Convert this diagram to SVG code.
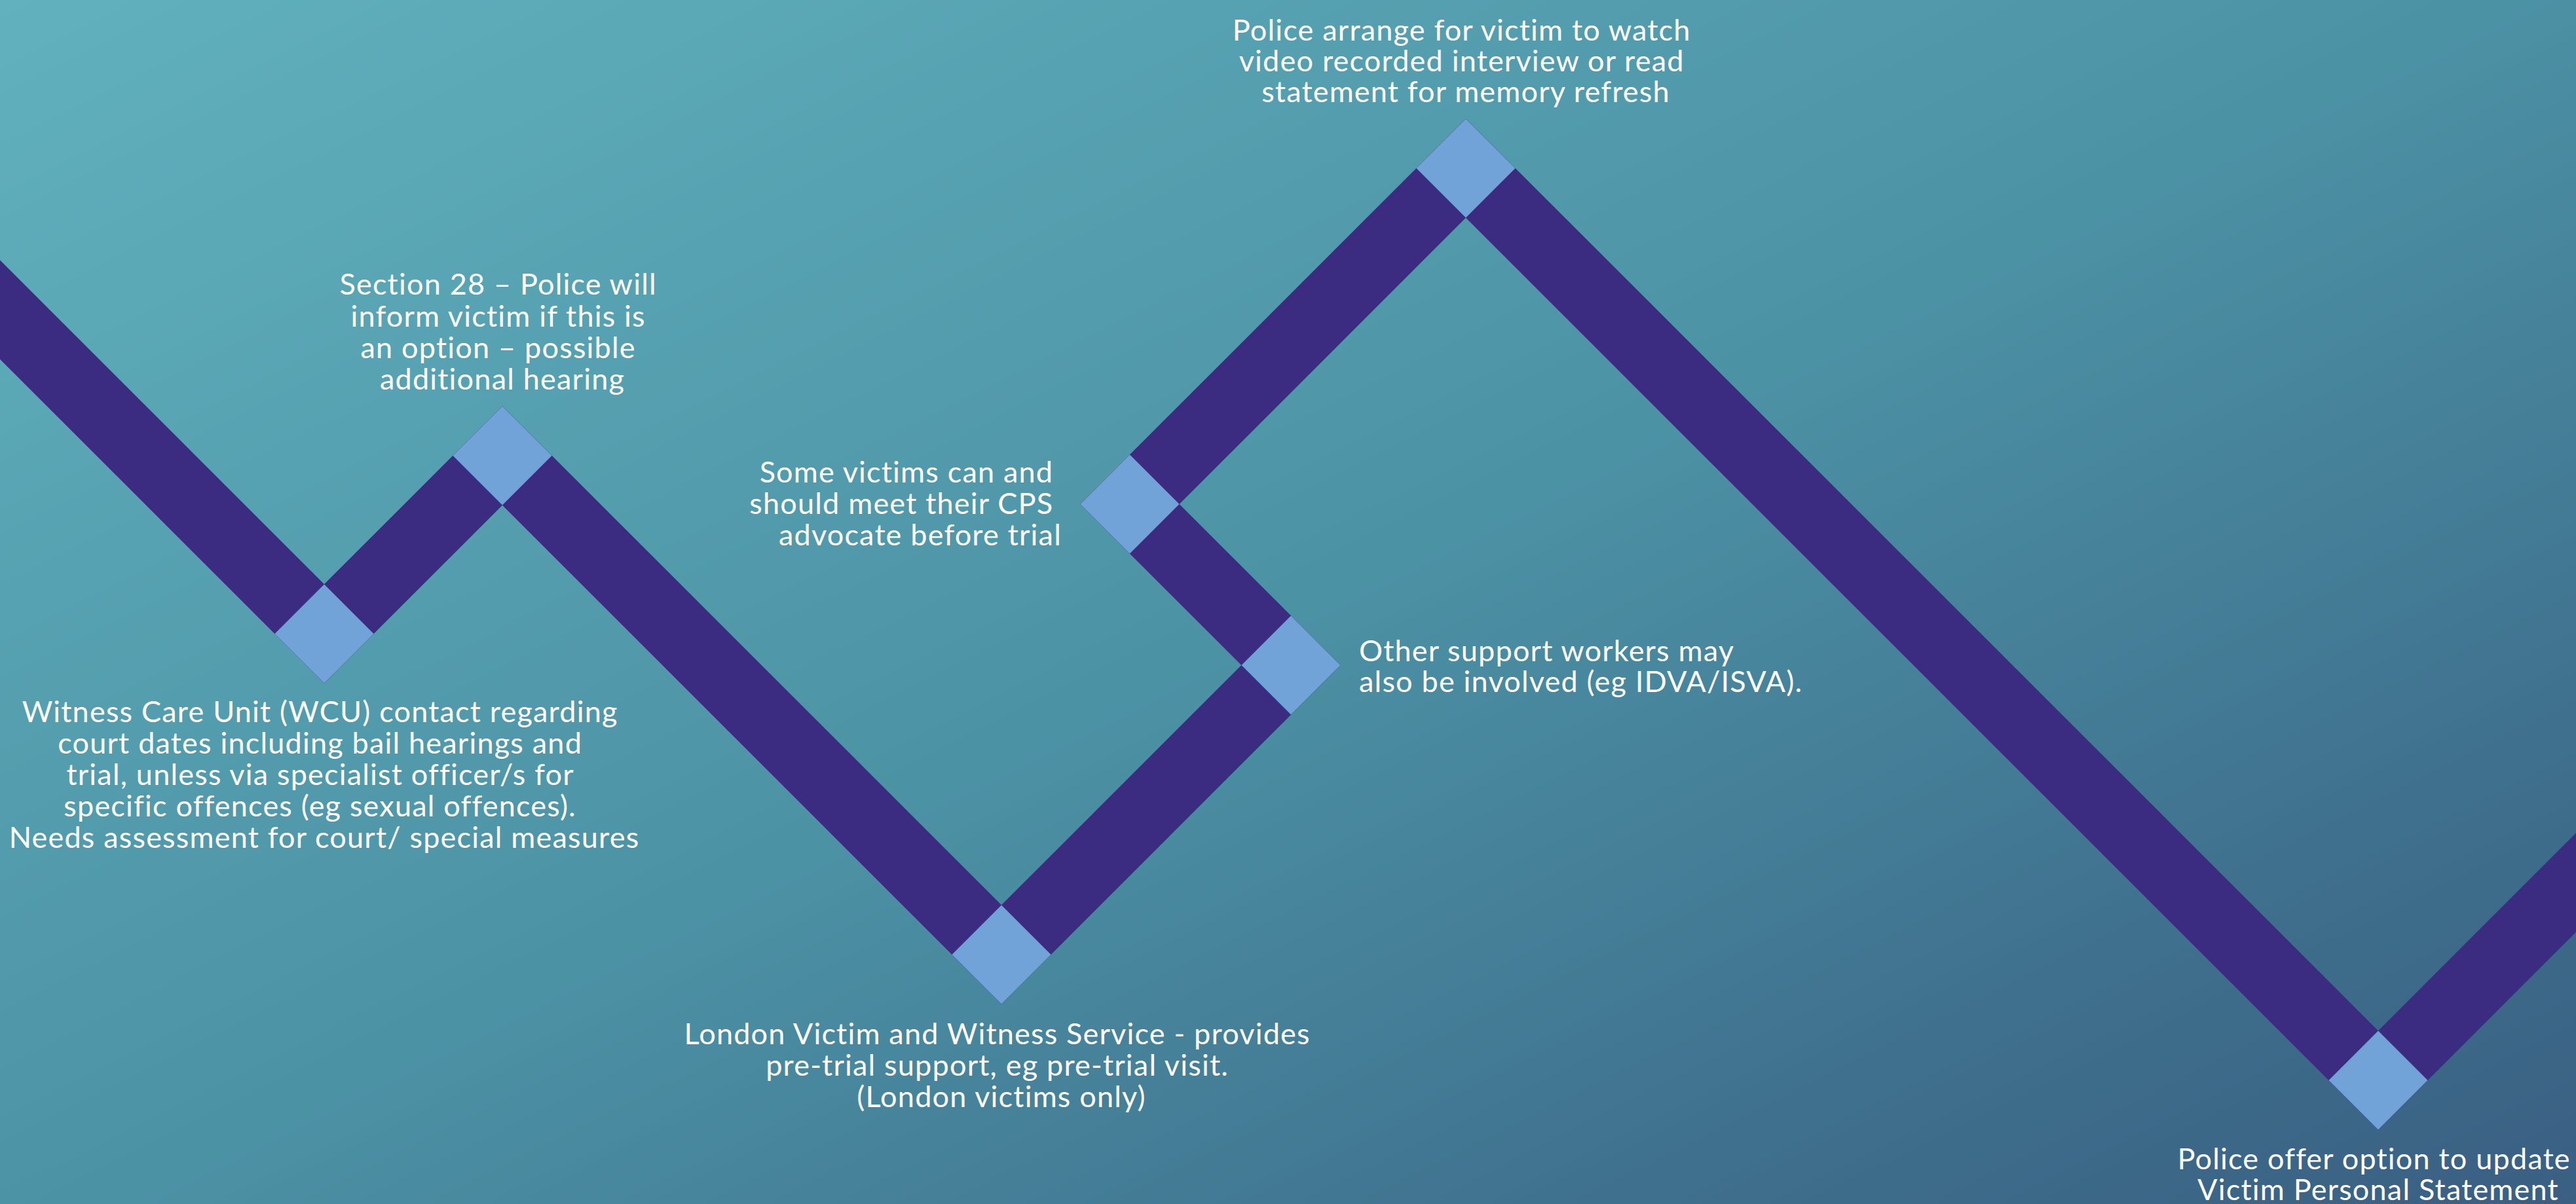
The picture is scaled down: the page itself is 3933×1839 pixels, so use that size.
<svg xmlns="http://www.w3.org/2000/svg" width="3933" height="1839" viewBox="0 0 3933 1839">
  <defs>
    <linearGradient id="bg" gradientUnits="userSpaceOnUse" x1="0" y1="0" x2="1522" y2="3044">
      <stop offset="0" stop-color="#61b1be"/>
      <stop offset="0.5" stop-color="#4c92a5"/>
      <stop offset="0.83" stop-color="#3e6e8c"/>
      <stop offset="1" stop-color="#3a5f82"/>
    </linearGradient>
    <style>
      .band { fill: none; stroke: #3c2c81; stroke-width: 107; stroke-linejoin: miter; stroke-miterlimit: 10; }
      .dia { fill: #71a3d9; }
      .lbl { fill: #ffffff; font-family: Lato, "Open Sans", "Liberation Sans", sans-serif; font-size: 45px; letter-spacing: 1.2px; }
      .mid { text-anchor: middle; }
      .end { text-anchor: end; }
      .start { text-anchor: start; }
    </style>
  </defs>
  <rect x="0" y="0" width="3933" height="1839" fill="url(#bg)"/>

  <g id="connectors">
    <polyline class="band" points="-100,373 495,968 767,696 1529,1458 1971,1016 1725,770 2238,257 3631,1650 4031,1250"/>
  </g>

  <g id="node-wcu">
    <polygon class="dia" points="495,892.5 570.5,968 495,1043.5 419.5,968"/>
    <text class="lbl mid" x="495">
      <tspan x="495" y="1103">Witness Care Unit (WCU) contact regarding</tspan>
      <tspan x="495" y="1151">court dates including bail hearings and</tspan>
      <tspan x="495" y="1199">trial, unless via specialist officer/s for</tspan>
      <tspan x="495" y="1247">specific offences (eg sexual offences).</tspan>
      <tspan x="495" y="1295">Needs assessment for court/ special measures</tspan>
    </text>
  </g>

  <g id="node-section28">
    <polygon class="dia" points="767,620.5 842.5,696 767,771.5 691.5,696"/>
    <text class="lbl mid" x="767">
      <tspan x="767" y="450">Section 28 – Police will</tspan>
      <tspan x="767" y="499">inform victim if this is</tspan>
      <tspan x="767" y="547">an option – possible</tspan>
      <tspan x="767" y="595">additional hearing</tspan>
    </text>
  </g>

  <g id="node-lvws">
    <polygon class="dia" points="1529,1382.5 1604.5,1458 1529,1533.5 1453.5,1458"/>
    <text class="lbl mid" x="1529">
      <tspan x="1529" y="1595">London Victim and Witness Service - provides</tspan>
      <tspan x="1529" y="1643">pre-trial support, eg pre-trial visit.</tspan>
      <tspan x="1529" y="1691">(London victims only)</tspan>
    </text>
  </g>

  <g id="node-other-support">
    <polygon class="dia" points="1971,940.5 2046.5,1016 1971,1091.5 1895.5,1016"/>
    <text class="lbl start" x="2075">
      <tspan x="2075" y="1010">Other support workers may</tspan>
      <tspan x="2075" y="1057">also be involved (eg IDVA/ISVA).</tspan>
    </text>
  </g>

  <g id="node-cps">
    <polygon class="dia" points="1725,694.5 1800.5,770 1725,845.5 1649.5,770"/>
    <text class="lbl end" x="1621">
      <tspan x="1621" y="737">Some victims can and</tspan>
      <tspan x="1621" y="785">should meet their CPS</tspan>
      <tspan x="1621" y="833">advocate before trial</tspan>
    </text>
  </g>

  <g id="node-memory-refresh">
    <polygon class="dia" points="2238,181.5 2313.5,257 2238,332.5 2162.5,257"/>
    <text class="lbl mid" x="2238">
      <tspan x="2238" y="62">Police arrange for victim to watch</tspan>
      <tspan x="2238" y="109">video recorded interview or read</tspan>
      <tspan x="2238" y="156">statement for memory refresh</tspan>
    </text>
  </g>

  <g id="node-vps">
    <polygon class="dia" points="3631,1574.5 3706.5,1650 3631,1725.5 3555.5,1650"/>
    <text class="lbl mid" x="3631">
      <tspan x="3631" y="1786">Police offer option to update</tspan>
      <tspan x="3631" y="1833">Victim Personal Statement</tspan>
    </text>
  </g>
</svg>
